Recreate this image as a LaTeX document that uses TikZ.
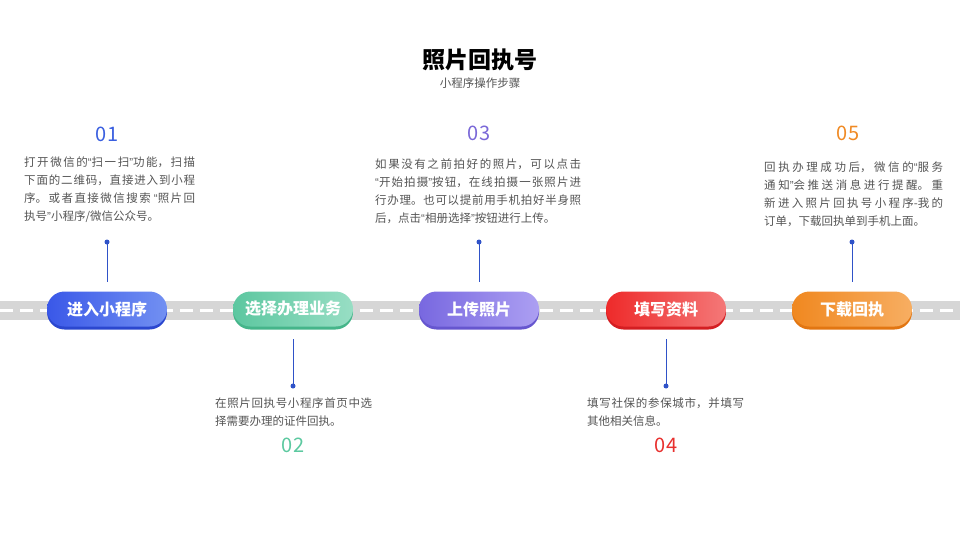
\documentclass[tikz,border=0pt]{standalone}
\usepackage{fontspec}
\setmainfont{Noto Sans CJK SC}
\newfontfamily\latq{Liberation Sans}
\newcommand\qo{{\latq “}}
\newcommand\qc{{\latq ”}}
\XeTeXlinebreaklocale "zh"
\XeTeXlinebreakskip=0pt plus 3pt
\definecolor{txt}{HTML}{555555}
\definecolor{road}{HTML}{D6D6D6}
\definecolor{conn}{HTML}{2F52C8}
\definecolor{cBlue}{HTML}{3A5FE0}
\definecolor{cBlueL}{HTML}{3A58E8}\definecolor{cBlueR}{HTML}{7290F2}\definecolor{cBlueD}{HTML}{2B47CF}
\definecolor{cGreen}{HTML}{5CC9A0}
\definecolor{cGreenL}{HTML}{5CC7A0}\definecolor{cGreenR}{HTML}{98DEC4}\definecolor{cGreenD}{HTML}{45B58A}
\definecolor{cPurple}{HTML}{7A68D8}
\definecolor{cPurpleL}{HTML}{7868E0}\definecolor{cPurpleR}{HTML}{AC9FF2}\definecolor{cPurpleD}{HTML}{6656CF}
\definecolor{cRed}{HTML}{E8302E}
\definecolor{cRedL}{HTML}{EE2A2A}\definecolor{cRedR}{HTML}{F47878}\definecolor{cRedD}{HTML}{D41E22}
\definecolor{cOrange}{HTML}{F08A24}
\definecolor{cOrangeL}{HTML}{F08820}\definecolor{cOrangeR}{HTML}{F7AE62}\definecolor{cOrangeD}{HTML}{E27612}
\newcommand\txtblk[2]{\parbox[t]{#1}{\fontsize{11.5}{18}\selectfont\color{txt}#2}}
\tikzset{
  pill/.style n args={3}{rounded corners=17.5pt, minimum width=120pt, minimum height=35pt,
    inner sep=0pt, text=white, font=\fontsize{16}{16}\selectfont\bfseries,
    left color=#1, right color=#2,
    preaction={fill=#3, transform canvas={yshift=-3pt}}},
  num/.style={font=\fontsize{20}{20}\selectfont, inner sep=0pt},
  blk/.style={anchor=north west, inner sep=0pt},
  connline/.style={draw=conn, line width=1pt},
  dot/.style={circle, fill=conn, inner sep=0pt, minimum size=5pt},
}
\begin{document}
\begin{tikzpicture}[x=1pt,y=-1pt]
\useasboundingbox[fill=white] (0,0) rectangle (960,540);
% title
\node[font=\fontsize{23}{23}\selectfont\bfseries, inner sep=0pt] (title) at (480,60) {照片回执号};
\node[font=\fontsize{11.5}{12}\selectfont, text=txt, inner sep=0pt] (sub) at (480,83) {小程序操作步骤};
% road
\fill[road] (0,301) rectangle (960,320);
\draw[white, line width=3pt, dash pattern=on 13pt off 7pt] (0,310.5) -- (960,310.5);
% pills
\node[pill={cBlueL}{cBlueR}{cBlueD}] (p1) at (107,309) {进入小程序};
\node[pill={cGreenL}{cGreenR}{cGreenD}] (p2) at (293,309) {选择办理业务};
\node[pill={cPurpleL}{cPurpleR}{cPurpleD}] (p3) at (479,309) {上传照片};
\node[pill={cRedL}{cRedR}{cRedD}] (p4) at (666,309) {填写资料};
\node[pill={cOrangeL}{cOrangeR}{cOrangeD}] (p5) at (852,309) {下载回执};
% connectors
\node[dot] (d1) at (107,242) {};
\node[dot] (d3) at (479,242) {};
\node[dot] (d5) at (852,242) {};
\node[dot] (d2) at (293,386) {};
\node[dot] (d4) at (666,386) {};
\draw[connline] (d1.center) -- ([yshift=9pt]p1.north);
\draw[connline] (d3.center) -- ([yshift=9pt]p3.north);
\draw[connline] (d5.center) -- ([yshift=9pt]p5.north);
\draw[connline] (d2.center) -- ([yshift=-12pt]p2.south);
\draw[connline] (d4.center) -- ([yshift=-12pt]p4.south);
% numbers
\node[num, text=cBlue] (n1) at (107,134) {01};
\node[num, text=cPurple] (n3) at (479,133) {03};
\node[num, text=cOrange] (n5) at (848,133) {05};
\node[num, text=cGreen] (n2) at (293,445) {02};
\node[num, text=cRed] (n4) at (666,445) {04};
% text blocks
\node[blk] (t1) at (24,157) {\txtblk{171pt}{打开微信的\qo 扫一扫\qc 功能，扫描\linebreak 下面的二维码，直接进入到小程\linebreak 序。或者直接微信搜索 \qo 照片回\linebreak 执号\qc 小程序/微信公众号。}};
\node[blk] (t3) at (375,159) {\txtblk{206pt}{如果没有之前拍好的照片，可以点击\linebreak \qo 开始拍摄\qc 按钮，在线拍摄一张照片进\linebreak 行办理。也可以提前用手机拍好半身照\linebreak 后，点击\qo 相册选择\qc 按钮进行上传。}};
\node[blk] (t5) at (764,162) {\txtblk{179pt}{回执办理成功后，微信的\qo 服务\linebreak 通知\qc 会推送消息进行提醒。重\linebreak 新进入照片回执号小程序-我的\linebreak 订单，下载回执单到手机上面。}};
\node[blk] (t2) at (215,398) {\txtblk{157pt}{在照片回执号小程序首页中选\linebreak 择需要办理的证件回执。}};
\node[blk] (t4) at (587,398) {\txtblk{157pt}{填写社保的参保城市，并填写\linebreak 其他相关信息。}};
\end{tikzpicture}
\end{document}
